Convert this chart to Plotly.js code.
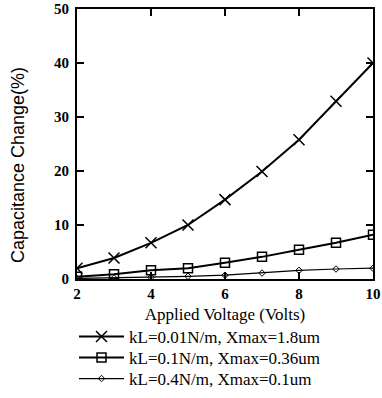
<!DOCTYPE html>
<html><head><meta charset="utf-8">
<script src="https://cdn.plot.ly/plotly-3.0.1.min.js"></script>
<style>html,body{margin:0;padding:0;background:#fff;}</style>
</head><body>
<div id="chart" style="width:382px;height:398px;"></div>
<script>
const voltage = [2, 3, 4, 5, 6, 7, 8, 9, 10];
const kL001 = [2.0, 3.9, 6.7, 10.0, 14.7, 19.9, 25.8, 32.9, 40.0];
const kL01 = [0.4, 0.9, 1.6, 2.0, 3.0, 4.1, 5.4, 6.7, 8.2];
const kL04 = [0.1, 0.2, 0.3, 0.5, 0.7, 1.1, 1.6, 1.85, 2.0];
const names = ['kL=0.01N/m, Xmax=1.8um', 'kL=0.1N/m, Xmax=0.36um', 'kL=0.4N/m, Xmax=0.1um'];
const xTicks = [2, 4, 6, 8, 10];
const yTicks = [0, 10, 20, 30, 40, 50];

const serif = 'Liberation Serif, Times New Roman, serif';
const W = 382, H = 398, MR = 9, MT = 9;
const PW = W - MR, PH = H - MT;           // paper area (no left/bottom margin)
const px = v => v / PW;                   // pixel x -> paper x
const py = v => (H - v) / PH;             // pixel y -> paper y

const traces = [
  {x: voltage, y: kL001, name: names[0], mode: 'lines+markers', legend: 'legend',
   line: {color: '#000', width: 2}, marker: {symbol: 'x-thin-open', size: 11, color: '#000', line: {color: '#000', width: 1.5}}},
  {x: voltage, y: kL01, name: names[1], mode: 'lines+markers', legend: 'legend2',
   line: {color: '#000', width: 2}, marker: {symbol: 'square-open', size: 9, color: '#000', line: {color: '#000', width: 1.5}}},
  {x: voltage, y: kL04, name: names[2], mode: 'lines+markers', legend: 'legend3',
   line: {color: '#000', width: 1.2}, marker: {symbol: 'diamond-open', size: 5, color: '#000', line: {color: '#000', width: 1}}}
];
const legFont = {family: serif, size: 17, color: '#000'};
function leg(yPix) {
  return {x: px(74), y: py(yPix), xanchor: 'left', yanchor: 'middle', itemwidth: 45,
          font: legFont, bgcolor: 'rgba(0,0,0,0)', borderwidth: 0};
}
const layout = {
  width: W, height: H,
  margin: {l: 0, r: MR, t: MT, b: 0},
  paper_bgcolor: '#fff', plot_bgcolor: '#fff',
  showlegend: true,
  legend: leg(337), legend2: leg(358), legend3: leg(379),
  xaxis: {domain: [px(77), 1], range: [2, 10], tickvals: xTicks, ticks: 'inside', ticklen: 7, tickwidth: 1.5, tickcolor: '#000',
          showline: true, linecolor: '#000', linewidth: 2, mirror: 'ticks', showgrid: false, zeroline: false,
          tickfont: {family: serif, size: 15, color: '#000', weight: 'bold'},
          title: {text: 'Applied Voltage (Volts)', font: {family: serif, size: 17, color: '#000'}, standoff: 7}},
  yaxis: {domain: [py(279), 1], range: [0, 50], tickvals: yTicks, ticks: 'inside', ticklen: 7, tickwidth: 1.5, tickcolor: '#000',
          showline: true, linecolor: '#000', linewidth: 2, mirror: 'ticks', showgrid: false, zeroline: false,
          ticklabelstandoff: 3,
          tickfont: {family: serif, size: 15, color: '#000', weight: 'bold'}},
  annotations: [{text: 'Capacitance Change(%)', xref: 'paper', yref: 'paper', x: px(18), y: py(165),
                 xanchor: 'center', yanchor: 'middle', textangle: -90, showarrow: false,
                 font: {family: 'Liberation Sans, Arial, sans-serif', size: 18, color: '#000'}}]
};
Plotly.newPlot('chart', traces, layout, {displayModeBar: false, staticPlot: true});
</script>
</body></html>
